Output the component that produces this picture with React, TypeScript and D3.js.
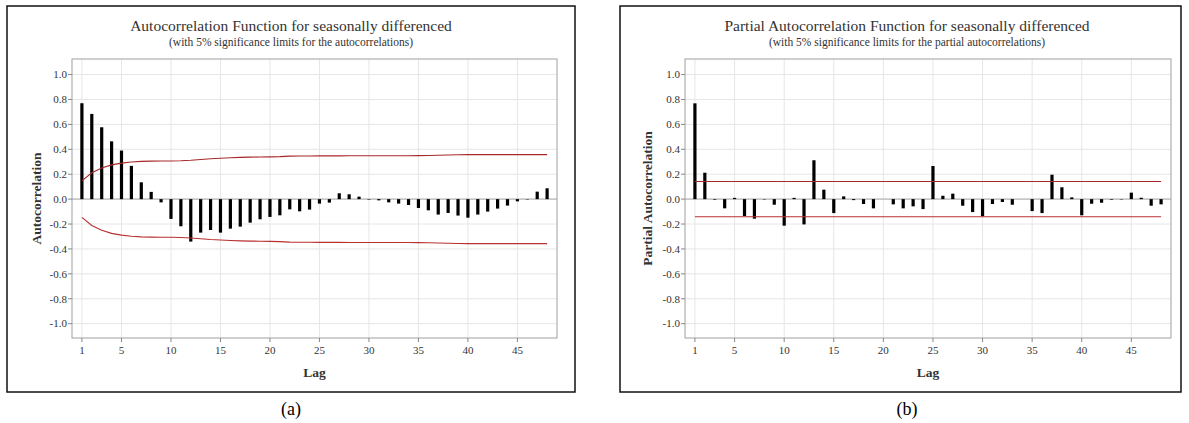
import React from "react";
import * as d3 from "d3";

const lags: number[] = Array.from({ length: 48 }, (_, i) => i + 1);

const acfValues: number[] = [
  0.77, 0.684, 0.577, 0.464, 0.39, 0.267, 0.135, 0.058, -0.026, -0.159,
  -0.218, -0.341, -0.269, -0.248, -0.269, -0.237, -0.221, -0.189, -0.162, -0.143,
  -0.13, -0.082, -0.098, -0.084, -0.036, -0.028, 0.047, 0.039, 0.02, -0.004,
  -0.01, -0.026, -0.036, -0.047, -0.071, -0.09, -0.124, -0.111, -0.132, -0.149,
  -0.124, -0.1, -0.076, -0.052, -0.018, -0.003, 0.06, 0.087,
];

const acfLimits: number[] = [
  0.147, 0.212, 0.25, 0.275, 0.289, 0.298, 0.303, 0.305, 0.306, 0.306,
  0.308, 0.312, 0.318, 0.324, 0.328, 0.332, 0.335, 0.337, 0.338, 0.339,
  0.341, 0.345, 0.346, 0.346, 0.347, 0.347, 0.347, 0.348, 0.348, 0.348,
  0.348, 0.348, 0.348, 0.348, 0.349, 0.35, 0.352, 0.354, 0.356, 0.357,
  0.357, 0.357, 0.357, 0.357, 0.357, 0.357, 0.357, 0.357,
];

const pacfValues: number[] = [
  0.769, 0.212, -0.005, -0.074, 0.01, -0.136, -0.157, -0.003, -0.045, -0.213,
  0.01, -0.203, 0.312, 0.076, -0.112, 0.022, -0.008, -0.039, -0.074, 0.0,
  -0.042, -0.074, -0.058, -0.08, 0.266, 0.027, 0.044, -0.053, -0.104, -0.138,
  -0.039, -0.023, -0.045, 0.0, -0.096, -0.112, 0.196, 0.095, 0.014, -0.13,
  -0.037, -0.029, -0.005, -0.003, 0.052, 0.011, -0.053, -0.042,
];

const pacfLimit = 0.141;

const xTickValues: number[] = [1, 5, 10, 15, 20, 25, 30, 35, 40, 45];
const yTickValues: number[] = [-1.0, -0.8, -0.6, -0.4, -0.2, 0.0, 0.2, 0.4, 0.6, 0.8, 1.0];

const FONT = "'Liberation Serif', 'Times New Roman', serif";

type PanelProps = {
  box: [number, number, number, number];
  plot: [number, number, number, number];
  title: string;
  subtitle: string;
  titleX: number;
  yLabel: string;
  yLabelX: number;
  caption: string;
  captionX: number;
  values: number[];
  upper: number[];
  lower: number[];
};

function Panel(p: PanelProps) {
  const [bx0, by0, bx1, by1] = p.box;
  const [px0, py0, px1, py1] = p.plot;
  const x = d3.scaleLinear().domain([0, 49]).range([px0, px1]);
  const y = d3.scaleLinear().domain([-1.115, 1.125]).range([py1, py0]);
  const line = d3
    .line<number>()
    .x((_, i) => x(lags[i]))
    .y((d) => y(d));
  const barW = 3.2;
  return (
    <g>
      <rect x={bx0} y={by0} width={bx1 - bx0} height={by1 - by0} fill="#fff" stroke="#111" strokeWidth={1.5} />
      <text x={p.titleX} y={31} textAnchor="middle" fontFamily={FONT} fontSize={15.5} fill="#333">
        {p.title}
      </text>
      <text x={p.titleX} y={46} textAnchor="middle" fontFamily={FONT} fontSize={11.5} fill="#333">
        {p.subtitle}
      </text>
      {yTickValues.map((t) => (
        <line key={"gy" + t} x1={px0} x2={px1} y1={y(t)} y2={y(t)} stroke="#e6e6e6" strokeWidth={1} />
      ))}
      {xTickValues.map((t) => (
        <line key={"gx" + t} x1={x(t)} x2={x(t)} y1={py0} y2={py1} stroke="#e6e6e6" strokeWidth={1} />
      ))}
      <line x1={px0} x2={px1} y1={y(0)} y2={y(0)} stroke="#c8c8c8" strokeWidth={1.6} />
      <rect x={px0} y={py0} width={px1 - px0} height={py1 - py0} fill="none" stroke="#a0a0a0" strokeWidth={1} />
      {yTickValues.map((t) => (
        <g key={"ty" + t}>
          <line x1={px0 - 4} x2={px0} y1={y(t)} y2={y(t)} stroke="#888" strokeWidth={1} />
          <text x={px0 - 5} y={y(t) + 3.8} textAnchor="end" fontFamily={FONT} fontSize={11} fill="#333">
            {t.toFixed(1)}
          </text>
        </g>
      ))}
      {xTickValues.map((t) => (
        <g key={"tx" + t}>
          <line x1={x(t)} x2={x(t)} y1={py1} y2={py1 + 4} stroke="#888" strokeWidth={1} />
          <text x={x(t)} y={py1 + 16} textAnchor="middle" fontFamily={FONT} fontSize={11} fill="#333">
            {t}
          </text>
        </g>
      ))}
      {p.values.map((v, i) => (
        <rect
          key={"b" + i}
          x={x(lags[i]) - barW / 2}
          y={y(Math.max(0, v))}
          width={barW}
          height={Math.abs(y(0) - y(v))}
          fill="#000"
        />
      ))}
      <path d={line(p.upper) || ""} fill="none" stroke="#a8282a" strokeWidth={1.1} />
      <path d={line(p.lower) || ""} fill="none" stroke="#b83030" strokeWidth={1.1} />
      <text
        x={p.yLabelX}
        y={(py0 + py1) / 2}
        transform={`rotate(-90, ${p.yLabelX}, ${(py0 + py1) / 2})`}
        textAnchor="middle"
        fontFamily={FONT}
        fontSize={13.5}
        fontWeight="bold"
        fill="#333"
      >
        {p.yLabel}
      </text>
      <text x={(px0 + px1) / 2} y={377} textAnchor="middle" fontFamily={FONT} fontSize={13.5} fontWeight="bold" fill="#333">
        Lag
      </text>
      <text x={p.captionX} y={415} textAnchor="middle" fontFamily={FONT} fontSize={18} fill="#000">
        {p.caption}
      </text>
    </g>
  );
}

export default function App() {
  const acfLower = acfLimits.map((d) => -d);
  const pacfUpper = lags.map(() => pacfLimit);
  const pacfLower = lags.map(() => -pacfLimit);
  return (
    <svg
      width={1189}
      height={423}
      viewBox="0 0 1189 423"
      style={{ position: "absolute", left: 0, top: 0, background: "#fff" }}
    >
      <rect x={0} y={0} width={1189} height={423} fill="#fff" />
      <Panel
        box={[7, 6, 575, 392]}
        plot={[72, 59, 557, 338]}
        title="Autocorrelation Function for seasonally differenced"
        subtitle="(with 5% significance limits for the autocorrelations)"
        titleX={291}
        yLabel="Autocorrelation"
        yLabelX={41}
        caption="(a)"
        captionX={291}
        values={acfValues}
        upper={acfLimits}
        lower={acfLower}
      />
      <Panel
        box={[620, 6, 1181, 392]}
        plot={[685, 59, 1171, 338]}
        title="Partial Autocorrelation Function for seasonally differenced"
        subtitle="(with 5% significance limits for the partial autocorrelations)"
        titleX={907}
        yLabel="Partial Autocorrelation"
        yLabelX={652}
        caption="(b)"
        captionX={907}
        values={pacfValues}
        upper={pacfUpper}
        lower={pacfLower}
      />
    </svg>
  );
}
